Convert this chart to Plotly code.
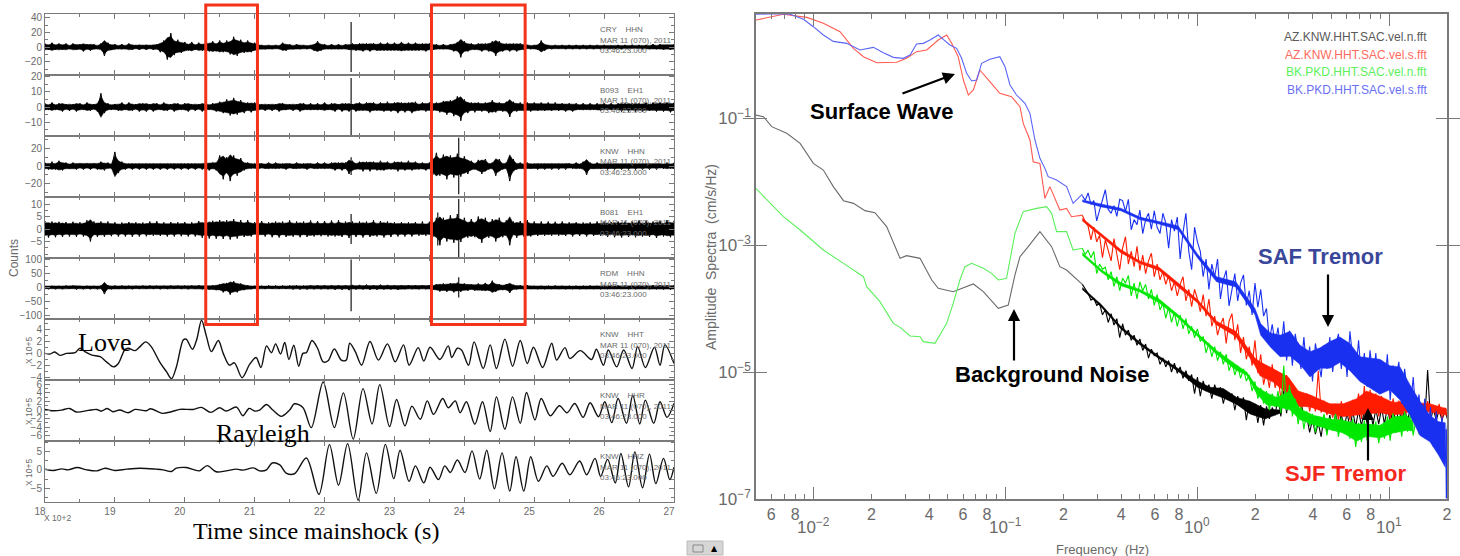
import plotly.graph_objects as go

W, H = 1460, 556

# ---------- left panel data: seismograms ----------
CRY_HHN = [
 5,4,6,4,5,4,5,3,5,4,4,6,4,5,4,3,5,12,6,4,
 4,3,4,3,5,4,3,4,3,4,3,4,4,7,9,17,19,11,10,8,
 7,5,7,4,6,5,6,6,8,6,9,7,9,10,14,12,10,8,9,7,
 6,4,3,3,3,3,3,3,6,5,4,3,4,3,3,3,3,5,8,5,
 4,3,4,3,4,3,4,4,5,5,5,6,5,6,5,5,6,5,6,5,
 6,5,7,5,6,5,6,5,5,6,5,4,4,3,4,3,4,6,7,14,
 8,6,5,4,5,6,5,6,8,12,8,6,5,6,5,6,5,4,3,3,
 3,4,9,5,3,3,3,2,3,3,3,3,3,3,3,3,3,3,3,3,
 3,3,2,3,3,3,3,3,3,2,3,3,3,3,4,3,4,4,3,4,4]
B093_EH1 = [
 2.5,2,3,2,2.5,3,2,2.5,2,3,2.5,2,3,2.5,2,3,9,4,2.5,2,
 2,2.5,3,2,3,2.5,2,3,2.5,3,2,3,2.5,2,3,2.5,2,3,2.5,2,
 2.5,3,2,2.5,2,3,2.5,2,2.5,3,3.5,4,5,5.5,6,5,4.5,4,3,3.5,
 3,2.5,2,2.5,2,2.5,2,3,2.5,2,2,2.5,2,3,2.5,2,2.5,2,2.5,2,
 3,2,2.5,3,2,3,2.5,3,2,3,3,2.5,3,3.5,3,2.5,3,3,3.5,3,
 3,4,3,3.5,3,4,3.5,2.5,3,3,3,2.5,3,3.5,4,5,4.5,6,7,9,
 5,4,3,3.5,3,3,3,4,4.5,3.5,3,3,3.5,6.5,3.5,3,3,2.5,3,3,
 3,2.5,3,2.5,3,2.5,3,2.5,2.5,3,2.5,3,2.5,2,2.5,2,2.5,2,2.5,2.5,
 2.5,2,2.5,2,2.5,3,2.5,3,2.5,3,2.5,3,3,2.5,3,3,3,3,3,3.5,3]
KNW_HHN = [
 4,4,5,4,6,5,4,3,4,4,3,4,3,4,3,4,5,5,4,3,
 16,8,5,4,3,4,3,4,3,4,3,4,3,4,3,4,3,4,3,4,
 3,4,3,4,3,4,4,5,4,5,12,15,10,17,12,11,9,5,4,3,
 3,4,3,3,4,3,4,3,3,4,3,3,4,3,3,4,3,3,4,3,
 4,3,4,5,4,5,4,9,6,4,5,6,5,6,5,5,6,5,5,4,
 5,6,5,5,6,5,5,4,4,5,4,10,15,11,13,15,12,13,14,12,
 11,9,6,4,7,9,8,4,4,11,8,4,4,17,8,4,4,3,4,3,
 3,4,3,4,3,4,3,4,3,4,3,3,4,3,5,10,4,3,4,3,
 3,4,3,4,3,4,3,4,3,4,3,4,3,4,3,4,3,3,4,3,4]
B081_EH1 = [
 3.2,3.4,3,3.3,2.9,3.2,2.8,3,2.9,3.1,2.7,3,3.5,5,3,3.2,3,3.1,3,2.9,
 2.7,3,2.6,3,2.8,3.1,2.7,3,2.6,2.9,3,2.7,3.1,2.8,2.7,3,2.8,3,2.7,2.9,
 2.8,3,2.7,3,3.2,3.5,3,3.8,3.3,3.9,3.6,4,3.5,4.2,4,3.8,3.6,3.2,3.6,3,
 2.8,3,3.2,3,2.7,3.3,3,3.4,3,3.2,3.5,3.1,3,3.3,3,3.2,3.4,3,3.2,2.9,
 3.2,3,3.4,3,3.5,3.2,3,3.6,3,3.2,3,3.4,3,3.2,3.5,3,3.2,3.4,3,3.2,
 2.7,3,2.8,3,2.7,3,2.8,2.7,3,2.7,2.9,3.2,4.5,6.5,4.5,5,5.5,5.5,6,5.2,
 4.5,3.5,4,3.3,5,5.5,4.5,3.5,4,5,4.5,3.3,3.5,6.5,3,3.5,3.2,3,3.6,3,
 3,2.8,3,2.7,3,2.7,2.9,2.7,3,2.8,2.7,3,2.7,2.8,2.6,3,2.7,2.8,3,2.7,
 3,3.2,2.8,3.3,3,3.4,3,3.2,3,3.3,3.5,3,3.4,3.2,3,3.6,3.2,3,3.6,3.3,3.4]
RDM_HHN = [
 6,7,6,7,6,7,7,6,7,8,6,7,6,7,6,7,7,24,8,7,
 7,6,7,6,6,7,6,6,7,6,7,6,6,7,6,6,7,6,7,6,
 6,7,7,6,8,7,8,9,8,10,12,18,16,26,22,18,14,10,8,7,
 6,7,6,6,7,6,7,6,7,6,7,8,7,8,7,8,8,7,8,7,
 8,7,8,9,8,9,8,10,9,8,9,8,10,9,8,9,10,8,9,8,
 8,9,8,7,8,7,8,7,8,7,8,9,12,15,14,16,15,18,17,16,
 14,12,10,12,14,12,16,12,24,16,12,10,12,20,10,8,8,7,8,6,
 6,7,6,7,6,6,7,6,6,7,6,6,6,7,6,6,7,6,6,7,
 6,6,7,6,7,6,7,7,6,7,7,6,7,7,8,7,8,8,7,8,8]
# spikes: time, up, down
CRY_SPIKES = [(2238, 34, -34)]
B093_SPIKES = [(2238, 19, -19)]
KNW_SPIKES = [(2238, 10, -10), (2392, 32, -32)]
B081_SPIKES = [(2238, 6, -6), (2362, 6.6, -6.6), (2392, 12, -12)]
RDM_SPIKES = [(2238, 100, -85), (2392, 36, -36)]
ENV_T0, ENV_STEP = 1800, 5

HHT_T = [1800,1807,1814,1821,1831,1843,1850,1857,1867,1879,1888,1898,1905,1914,1919,1929,1936,1944,1952,1964,1974,1981,1988,1998,2002,2011,2017,2024,2031,2038,2048,2055,2064,2071,2082,2093,2102,2109,2117,2124,2130,2137,2143,2149,2156,2163,2169,2174,2182,2190,2198,2205,2214,2224,2231,
 2236,2244,2253,2265,2277,2290,2301,2313,2321,2334,2342,2351,2365,2377,2382,2390,2396,2406,2414,2427,2437,2446,2458,2469,2480,2490,2499,2512,2525,2532,2544,2551,2566,2582,2589,2599,2606,2618,2628,2640,2648,2659,2672,2680,2687,2700]
HHT_V = [0,-.11,.23,-.34,0,.11,.86,.29,-.29,-.57,-1.43,-2.29,-1.71,.57,.86,.46,1.14,1.94,1.14,-1.43,-3.14,-4.29,-2.29,2.29,2.4,.69,2.29,5.6,2.86,.29,2.17,0,-2,-1.6,-4.11,-1.83,-.69,-2.4,1.26,.11,1.6,-.11,1.83,-1.03,1.37,-2.17,0,.11,2.17,.86,-1.43,-1.26,.74,-1.14,-1.14,
 1.71,.29,-2,2,-1.14,1.6,-1.43,1.43,-2,.97,-1.31,1.03,-1.03,1.26,-.69,.86,.57,-2,1.94,-2.57,1.43,-2.57,2.4,-2.17,2.17,-1.71,1.03,-2.4,1.71,-1.14,.97,-.86,.46,-1.03,.69,-2,.57,-2.29,.57,-2.57,1.14,-2.4,1.03,-2,1.43,-1.71]
HHR_T = [1800,1812,1824,1835,1845,1862,1874,1881,1889,1897,1907,1919,1929,1945,1951,1968,1981,1993,2012,2024,2037,2050,2059,2074,2083,2092,2100,2107,2117,2126,2138,2150,2157,2169,2181,2198,2214,2227,
 2241,2255,2268,2279,2293,2303,2315,2325,2337,2347,2356,2369,2377,2387,2394,2403,2415,2426,2437,2446,2458,2469,2480,2489,2501,2510,2523,2536,2547,2558,2570,2580,2592,2601,2611,2620,2632,2641,2651,2659,2671,2680,2690,2700]
HHR_V = [.15,-.15,0,.38,-.46,-.08,.15,-.23,.38,-.38,0,-.62,.15,-.15,.31,-.77,-.38,.15,.15,.62,-.54,.54,-.23,.69,-1.31,.38,-.23,0,1.31,0,-1.46,0,1.46,.62,-4.08,6.54,-4.08,4,
 -6.77,5,-3.23,5.92,-3.85,2.46,-3.69,.92,-2.15,2.15,-1,2.69,.54,2.15,-.62,1.92,-3.31,1.92,-5,3.08,-4.46,3.08,-3.08,4.08,-2.31,2.69,-1.31,1,-.62,1.54,-1.69,1.69,-1.54,1.92,-2.92,2.69,-3.08,3.46,-3.23,2.31,-3.08,1.92,-1.69,1.54]
HHZ_T = [1800,1812,1824,1833,1846,1860,1874,1886,1900,1917,1936,1959,1969,1981,1988,2002,2021,2032,2045,2059,2074,2083,2098,2107,2117,2125,2136,2145,2157,2174,2192,2207,2220,2233,
 2248,2260,2274,2287,2299,2308,2321,2330,2342,2351,2363,2372,2380,2390,2401,2411,2422,2432,2443,2454,2465,2474,2485,2495,2506,2518,2527,2540,2551,2565,2575,2587,2595,2605,2616,2624,2635,2644,2655,2665,2674,2685,2694,2700]
HHZ_V = [.18,-.18,.27,0,.62,0,-.27,.44,-.18,.18,.44,.18,0,-.44,.44,.62,-.27,1.15,-.53,-.27,.18,-.09,.53,-.27,0,1.86,1.33,-.88,-1.06,3.19,-6.64,6.81,-4.16,7.08,
 -8.23,4.6,-6.37,6.9,-2.39,5.31,-3.1,1.06,-3.54,.71,-2.65,1.06,-.71,2.65,-.71,5.13,-2.48,5.31,-5.13,4.6,-5.75,3.54,-5.75,3.54,-3.1,1.06,-1.77,1.77,-1.33,2.39,-1.33,3.1,-1.77,2.83,-3.54,4.42,-4.6,4.87,-4.87,4.25,-3.72,3.1,-2.65,.71]
WINDOW_STARTS = [2030, 2353]
WINDOW_ENDS = [2104, 2487]

# ---------- right panel data: spectra (log10 frequency, log10 amplitude) ----------
BLUE_LF = [-2.302,-2.21,-2.123,-2.054,-2.002,-1.95,-1.898,-1.828,-1.759,-1.689,-1.637,-1.585,-1.533,-1.498,-1.464,-1.429,-1.394,-1.351,-1.325,-1.29,-1.255,-1.229,-1.203,-1.177,-1.151,-1.125,-1.082,-1.03,-1.003,-0.977,-0.943,-0.899,-0.873,-0.847,-0.821,-0.795,-0.778,-0.734,-0.682,-0.648,-.6]
BLUE_E = [0.633,0.643,0.633,0.554,0.438,0.307,0.207,0.176,0.071,0.113,0.029,-0.045,-0.06,-0.008,0.165,0.176,0.228,0.307,0.239,0.15,0.097,-0.06,-0.297,-0.417,-0.402,-0.139,-0.076,-0.034,-0.192,-0.48,-0.638,-0.769,-0.927,-1.346,-1.635,-1.793,-1.924,-1.976,-2.081,-2.344,-2.2]
RED_LF = [-2.302,-2.158,-2.036,-1.95,-1.863,-1.793,-1.741,-1.672,-1.568,-1.516,-1.464,-1.411,-1.351,-1.307,-1.281,-1.247,-1.22,-1.194,-1.168,-1.134,-1.082,-1.03,-.969,-.925,-.908,-.873,-.856,-.821,-.795,-.769,-.717,-.682,-.656,-.6]
RED_E = [.543,.633,.585,.491,.36,.097,-.034,-.129,-.123,-.06,.045,.071,.228,.307,.176,-.034,-.402,-.638,-.559,-.244,-.428,-.612,-.664,-.822,-1.084,-1.346,-1.688,-1.714,-2.265,-2.081,-2.449,-2.423,-2.554,-2.53]
GREEN_LF = [-2.302,-2.227,-2.158,-2.071,-1.95,-1.845,-1.741,-1.724,-1.655,-1.585,-1.55,-1.498,-1.446,-1.429,-1.368,-1.307,-1.273,-1.238,-1.212,-1.177,-1.116,-1.073,-1.038,-.995,-.951,-.908,-.839,-.786,-.76,-.734,-.682,-.648,-.6]
GREEN_E = [-2.108,-2.344,-2.554,-2.764,-3.079,-3.289,-3.499,-3.656,-3.892,-4.234,-4.297,-4.433,-4.444,-4.522,-4.549,-4.234,-3.919,-3.551,-3.341,-3.289,-3.367,-3.446,-3.551,-3.525,-2.816,-2.475,-2.423,-2.396,-2.501,-2.79,-2.79,-3.079,-3.05]
BLACK_LF = [-2.302,-2.262,-2.219,-2.141,-2.071,-2.002,-1.95,-1.898,-1.845,-1.793,-1.733,-1.681,-1.62,-1.55,-1.516,-1.446,-1.394,-1.385,-1.351,-1.273,-1.168,-1.116,-1.038,-.986,-.951,-.925,-.882,-.821,-.76,-.717,-.682,-.6]
BLACK_E = [-.953,-.979,-1.136,-1.241,-1.399,-1.714,-1.819,-2.081,-2.302,-2.344,-2.459,-2.491,-2.711,-3.21,-3.168,-3.21,-3.499,-3.551,-3.683,-3.735,-3.614,-3.735,-3.997,-3.945,-3.472,-3.184,-3.026,-2.79,-3.026,-3.341,-3.394,-3.62]

# jagged high-frequency part: values read every 0.015 decades from log10 f = -0.6
ZIG_LF0, ZIG_STEP = -0.6, 0.015
BLUE_ZIG = [
 -2.22,-2.3,-2.18,-2.36,-2.3,-2.62,-2.45,-2.3,-2.13,-2.44,
 -2.5,-2.38,-2.55,-2.28,-2.3,-2.47,-2.28,-2.76,-2.6,-2.68,
 -2.45,-2.82,-2.6,-2.5,-2.75,-2.46,-2.72,-2.82,-2.5,-2.65,
 -3.05,-2.6,-2.78,-2.56,-3.22,-2.8,-2.5,-3.1,-3.39,-2.72,
 -2.95,-3.1,-3.5,-3.22,-3.7,-3.3,-3.5,-3.22,-3.85,-3.55,
 -3.4,-3.96,-3.7,-3.45,-3.88,-3.6,-3.47,-3.95,-3.72,-4.1,
 -3.6,-3.98,-3.7,-4.12,-4.0,-4.5,-4.25,-4.56,-4.3,-4.7,
 -4.2,-4.82,-4.35,-4.9,-4.4,-4.68,-4.95,-4.45,-5.0,-4.6,
 -5.15,-4.55,-4.85,-5.08,-4.58,-4.95,-4.45,-5.0,-4.6,-4.4,
 -4.95,-4.5,-5.08,-4.36,-4.8,-5.06,-4.5,-5.1,-4.7,-5.23,
 -4.66,-5.1,-4.7,-5.32,-4.82,-5.25,-4.72,-5.44,-4.9,-5.1,
 -4.84,-5.5,-4.95,-5.3,-5.55,-5.08,-5.76,-5.35,-5.92,-5.42,
 -6.07,-5.55,-6.18,-5.62,-6.3,-5.7,-6.45,-5.75]
RED_ZIG = [
 -2.53,-2.63,-2.7,-2.92,-2.72,-2.95,-2.85,-3.2,-2.92,-3.1,
 -3.25,-2.9,-3.15,-3.39,-3.05,-2.87,-3.3,-3.1,-3.34,-3.02,
 -3.4,-3.16,-3.45,-3.25,-3.13,-3.5,-3.3,-3.55,-3.42,-3.62,
 -3.48,-3.72,-3.58,-3.8,-3.62,-3.5,-3.88,-3.7,-3.97,-3.7,
 -3.85,-4.05,-3.78,-4.12,-3.85,-4.28,-4.12,-4.42,-4.25,-4.15,
 -4.55,-4.2,-4.08,-4.5,-4.25,-4.7,-4.45,-4.8,-4.6,-4.9,
 -4.5,-5.02,-4.72,-5.2,-4.98,-5.25,-4.88,-5.25,-5.08,-5.42,
 -5.15,-5.05,-5.45,-5.25,-5.55,-5.3,-5.6,-5.4,-5.34,-5.62,
 -5.4,-5.62,-4.98,-5.64,-5.45,-5.68,-5.5,-5.72,-5.5,-5.76,
 -5.46,-5.7,-5.5,-5.76,-5.44,-5.66,-5.34,-5.74,-5.22,-5.7,
 -5.28,-5.62,-5.34,-5.7,-5.38,-5.66,-5.46,-5.74,-5.42,-5.64,
 -5.45,-5.7,-5.42,-5.62,-5.48,-5.7,-5.44,-5.6,-5.5,-5.68,
 -5.46,-5.66,-5.52,-5.7,-5.5,-5.74,-5.56,-5.72]
GREEN_ZIG = [
 -3.05,-3.15,-3.08,-3.2,-3.1,-3.45,-3.3,-3.38,-3.35,-3.55,
 -3.42,-3.65,-3.5,-3.72,-3.52,-3.6,-3.48,-3.8,-3.6,-3.85,
 -3.58,-3.72,-3.62,-3.85,-3.7,-3.95,-3.78,-4.02,-3.92,-4.15,
 -3.98,-4.22,-4.06,-4.28,-4.1,-4.32,-4.16,-4.4,-4.28,-4.46,
 -4.32,-4.52,-4.44,-4.7,-4.55,-4.76,-4.6,-4.82,-4.68,-4.88,
 -4.72,-4.98,-4.84,-5.05,-4.9,-5.1,-4.95,-5.14,-5.05,-5.3,
 -5.15,-5.42,-5.25,-5.5,-5.3,-5.6,-5.34,-5.55,-5.3,-5.65,
 -4.9,-5.6,-5.2,-5.7,-5.42,-5.82,-5.55,-5.9,-5.62,-5.85,
 -5.66,-5.95,-5.7,-5.86,-5.66,-6.0,-5.72,-5.92,-5.66,-6.02,
 -5.72,-5.98,-5.78,-6.05,-5.74,-6.18,-5.8,-6.1,-5.76,-6.08,
 -5.82,-6.02,-5.78,-6.12,-5.84,-6.05,-5.7,-6.08,-5.65,-5.96,
 -5.7,-6.02,-5.62,-5.94,-5.66,-6.0,-5.72,-5.98,-5.8,-6.0]
BLACK_ZIG = [
 -3.62,-3.7,-3.76,-3.87,-3.84,-3.95,-3.92,-4.1,-4.02,-4.22,
 -4.08,-4.26,-4.16,-4.46,-4.24,-4.42,-4.34,-4.5,-4.42,-4.58,
 -4.48,-4.66,-4.56,-4.78,-4.64,-4.74,-4.7,-4.88,-4.78,-4.92,
 -4.82,-5.0,-4.86,-5.02,-4.92,-5.1,-4.98,-5.14,-5.04,-5.34,
 -5.08,-5.38,-5.14,-5.3,-5.2,-5.42,-5.2,-5.36,-5.24,-5.5,
 -5.3,-5.44,-5.34,-5.6,-5.38,-5.54,-5.4,-5.76,-5.46,-5.64,
 -5.5,-5.8,-5.52,-5.84,-5.54,-5.74,-5.56,-5.68,-5.4,-5.7,
 -5.3,-5.65,-5.28,-5.6,-5.26,-5.55,-5.45,-5.75,-5.7,-5.95,
 -5.75,-5.98,-5.8,-6.02,-5.7,-5.95,-5.68,-5.92,-5.65,-5.9,
 -5.66,-5.9,-5.64,-5.88,-5.62,-5.86,-5.6,-5.85,-5.6,-5.82,
 -5.58,-5.84,-5.58,-5.82,-5.56,-5.82,-5.55,-5.8,-5.56,-5.82,
 -5.56,-5.8,-5.55,-5.78,-5.56,-5.78,-5.56,-5.76,-5.56,-5.78,
 -4.97,-5.76,-5.58,-5.76,-5.6,-5.76,-5.6,-5.76]

# solid core of the noisy bands (thin at low frequency, thick at high frequency)
BLUE_BAND_LF = [-.6,-.5,-.4,-.3,-.2,-.1,0,.1,.2,.3,.33,.378,.431,.483,.535,.587,.639,.691,.743,.795,.847,.899,.951,1.003,1.056,1.108,1.16,1.212,1.255,1.292]
BLUE_BAND_UP = [-2.29,-2.36,-2.42,-2.56,-2.63,-2.7,-3.14,-3.5,-3.58,-4.0,-4.24,-4.38,-4.42,-4.36,-4.58,-4.68,-4.62,-4.52,-4.45,-4.55,-4.76,-4.78,-4.8,-4.9,-4.92,-5.2,-5.46,-5.68,-5.78,-5.8]
BLUE_BAND_LO = [-2.32,-2.4,-2.46,-2.6,-2.67,-2.76,-3.2,-3.58,-3.66,-4.1,-4.42,-4.6,-4.76,-4.75,-4.88,-5.08,-4.94,-4.94,-4.85,-4.98,-5.15,-5.25,-5.35,-5.28,-5.44,-5.68,-6.0,-6.1,-6.3,-6.5]
RED_BAND_LF = [-.6,-.5,-.4,-.3,-.2,-.1,0,.1,.2,.3,.326,.396,.474,.526,.587,.691,.76,.83,.882,.951,1.021,1.082,1.125,1.212,1.299]
RED_BAND_UP = [-2.58,-2.82,-3.07,-3.25,-3.35,-3.6,-3.86,-4.2,-4.36,-4.78,-4.84,-4.95,-5.08,-5.3,-5.36,-5.5,-5.5,-5.42,-5.3,-5.38,-5.48,-5.46,-5.48,-5.5,-5.58]
RED_BAND_LO = [-2.62,-2.87,-3.12,-3.29,-3.4,-3.66,-3.91,-4.26,-4.44,-4.9,-5.06,-5.16,-5.36,-5.54,-5.55,-5.66,-5.7,-5.68,-5.66,-5.64,-5.68,-5.64,-5.62,-5.63,-5.68]
GREEN_BAND_LF = [-.6,-.5,-.4,-.3,-.2,-.1,0,.1,.2,.257,.309,.361,.413,.483,.535,.604,.691,.76,.83,.882,.951,1.021,1.09,1.125]
GREEN_BAND_UP = [-3.12,-3.39,-3.59,-3.7,-3.85,-4.1,-4.39,-4.66,-4.88,-5.0,-5.23,-5.33,-5.4,-5.3,-5.58,-5.68,-5.74,-5.76,-5.82,-5.82,-5.84,-5.71,-5.68,-5.8]
GREEN_BAND_LO = [-3.16,-3.43,-3.64,-3.74,-3.91,-4.15,-4.43,-4.72,-4.97,-5.05,-5.34,-5.52,-5.54,-5.6,-5.75,-5.83,-5.91,-5.96,-6.09,-6.01,-6.04,-5.96,-5.92,-5.93]
BLACK_BAND_LF = [-.6,-.5,-.4,-.3,-.2,-.1,0.0,.066,.135,.205,.274,.352,.431]
BLACK_BAND_UP = [-3.67,-3.94,-4.28,-4.53,-4.75,-4.94,-5.14,-5.24,-5.26,-5.4,-5.46,-5.58,-5.6]
BLACK_BAND_LO = [-3.7,-3.98,-4.32,-4.57,-4.79,-4.99,-5.24,-5.33,-5.41,-5.51,-5.66,-5.74,-5.65]
DROP_LF, DROP_E = [1.296, 1.2985], [-5.9, -6.99]

LEGEND_NAMES = ["AZ.KNW.HHT.SAC.vel.n.fft", "AZ.KNW.HHT.SAC.vel.s.fft",
                "BK.PKD.HHT.SAC.vel.n.fft", "BK.PKD.HHT.SAC.vel.s.fft"]

# ---------- layout helpers ----------
SANS = "Liberation Sans, Arial, sans-serif"
SERIF = "Liberation Serif, serif"
GRAY, LBL = "#7a7a7a", "#6a6a6a"
def px(x): return x / W
def py(y): return 1 - y / H

annotations, shapes = [], []
def text(x, y, s, size=8, color=LBL, family=SANS, anchor="center", **k):
    annotations.append(dict(x=px(x), y=py(y), xref="paper", yref="paper", text=s, showarrow=False,
                            xanchor=anchor, yanchor="middle",
                            font=dict(size=size, color=color, family=family), **k))
def arrow(x0, y0, x1, y1):
    annotations.append(dict(x=px(x1), y=py(y1), xref="paper", yref="paper", text="", showarrow=True,
                            ax=x0 - x1, ay=y0 - y1, arrowhead=2, arrowsize=1.1, arrowwidth=2.2,
                            arrowcolor="#000000"))

fig = go.Figure()

# ---------- left panel ----------
ROW_TOP = [14, 75, 136, 197, 258, 319, 380, 441]
ROW_H = 61
ROWS = [
 dict(range=[-38, 45], ticks=[40, 20, 0, -20], minor=10, st="CRY    HHN"),
 dict(range=[-19, 21], ticks=[20, 10, 0, -10], minor=5, st="B093    EH1"),
 dict(range=[-35, 34], ticks=[20, 0, -20], minor=10, st="KNW    HHN"),
 dict(range=[-11.6, 12.8], ticks=[10, 5, 0, -5], minor=2.5, st="B081    EH1"),
 dict(range=[-113, 105], ticks=[100, 50, 0, -50, -100], minor=25, st="RDM    HHN"),
 dict(range=[-4.5, 5.8], ticks=[4, 2, 0, -2, -4], minor=1, st="KNW    HHT"),
 dict(range=[-7.2, 7.0], ticks=[6, 4, 2, 0, -2, -4, -6], minor=1, st="KNW    HHR"),
 dict(range=[-8.7, 7.8], ticks=[5, 0, -5], minor=2.5, st="KNW    HHZ"),
]
ENVS = [(CRY_HHN, CRY_SPIKES), (B093_EH1, B093_SPIKES), (KNW_HHN, KNW_SPIKES),
        (B081_EH1, B081_SPIKES), (RDM_HHN, RDM_SPIKES)]
WAVES = [(HHT_T, HHT_V), (HHR_T, HHR_V), (HHZ_T, HHZ_V)]
X_TICKS = list(range(1800, 2701, 100))
CORE = 0.75

for i, (row, top) in enumerate(zip(ROWS, ROW_TOP)):
    n = i + 1
    xa = dict(domain=[px(45), px(674)], range=[1800, 2700], anchor=f"y{n}", tickvals=X_TICKS,
              ticks="inside", ticklen=5, tickcolor=GRAY, linecolor=GRAY, linewidth=1, mirror="allticks",
              showgrid=False, zeroline=False,
              minor=dict(ticks="inside", ticklen=3, dtick=50, tick0=1800, tickcolor=GRAY, showgrid=False),
              showticklabels=(i == 7), ticktext=[str(t // 100) for t in X_TICKS],
              ticklabelshift=-5, tickfont=dict(size=10, color=LBL, family=SANS))
    ya = dict(domain=[py(top + ROW_H), py(top)], range=row["range"], anchor=f"x{n}", tickvals=row["ticks"],
              ticktext=[str(t).replace("-", "\u2212") for t in row["ticks"]],
              ticks="inside", ticklen=5, tickcolor=GRAY, linecolor=GRAY, linewidth=1, mirror="allticks",
              showgrid=False, zeroline=False,
              minor=dict(ticks="inside", ticklen=3, tickmode="linear", tick0=0, dtick=row["minor"],
                         tickcolor=GRAY, showgrid=False),
              tickfont=dict(size=10, color=LBL, family=SANS))
    fig.layout[f"xaxis{n if n > 1 else ''}"] = xa
    fig.layout[f"yaxis{n if n > 1 else ''}"] = ya
    text(598, top + 15, row["st"], anchor="left")
    text(598, top + 26, "MAR 11 (070), 2011", anchor="left")
    text(598, top + 36, "03:46:23.000", anchor="left")
    if i < 5:
        amps, spikes = ENVS[i]
        xs, ys = [], []
        tt = [ENV_T0 + ENV_STEP * j for j in range(len(amps))]
        for j, (t, a) in enumerate(zip(tt, amps)):
            xs.append(t)
            ys.append(a if j % 2 == 0 else -a)
        fig.add_trace(go.Scatter(x=tt + tt[::-1], y=[a * CORE for a in amps] + [-a * CORE for a in amps[::-1]],
                                 mode="lines", fill="toself", fillcolor="#000000", line=dict(color="#000000", width=0.5),
                                 xaxis=f"x{n}", yaxis=f"y{n}", hoverinfo="skip", showlegend=False))
        fig.add_trace(go.Scatter(x=xs, y=ys, mode="lines", line=dict(color="#000000", width=1.0),
                                 xaxis=f"x{n}", yaxis=f"y{n}", hoverinfo="skip", showlegend=False))
        for t, up, dn in spikes:
            fig.add_trace(go.Scatter(x=[t, t], y=[dn, up], mode="lines", line=dict(color="#000000", width=1.1),
                                     xaxis=f"x{n}", yaxis=f"y{n}", hoverinfo="skip", showlegend=False))
    else:
        tt, vv = WAVES[i - 5]
        fig.add_trace(go.Scatter(x=tt, y=vv, mode="lines", line=dict(color="#111111", width=1.4, shape="spline", smoothing=0.9),
                                 xaxis=f"x{n}", yaxis=f"y{n}", hoverinfo="skip", showlegend=False))
        text(29, top + 32, "X 10+5", textangle=-90, size=8.5)

for s, e in zip(WINDOW_STARTS, WINDOW_ENDS):
    shapes.append(dict(type="rect", xref="x", yref="paper", x0=s, x1=e, y0=py(324.5), y1=py(5),
                       line=dict(color="#f5331a", width=3), layer="above"))
text(14, 258, "Counts", size=12, textangle=-90)
text(57, 518, "X 10+2", size=8.5)
text(104, 342, "Love", size=26, color="#000", family=SERIF)
text(263, 433, "Rayleigh", size=26, color="#000", family=SERIF)
text(316, 531, "Time since mainshock (s)", size=24, color="#000", family=SERIF)

# ---------- right panel ----------
def pw(v): return [10 ** a for a in v]
LABEL_TICKS = [6e-3, 8e-3, .02, .04, .06, .08, .2, .4, .6, .8, 2, 4, 6, 8, 20]
LABEL_TEXT = ["6", "8", "2", "4", "6", "8", "2", "4", "6", "8", "2", "4", "6", "8", "2"]
OTHER_TICKS = [7e-3, 9e-3, .03, .05, .07, .09, .3, .5, .7, .9, 3, 5, 7, 9]
DECADES = [.01, .1, 1, 10]
XR = [-2.301, 1.301]
fig.layout["xaxis9"] = dict(domain=[px(756), px(1447)], type="log", range=XR, anchor="y9",
                            tickvals=LABEL_TICKS, ticktext=LABEL_TEXT, ticks="inside", ticklen=5,
                            minor=dict(tickvals=OTHER_TICKS, ticks="inside", ticklen=5, tickcolor=GRAY, showgrid=False),
                            tickcolor=GRAY, linecolor=GRAY, linewidth=1.5, mirror="allticks",
                            showgrid=False, zeroline=False, tickfont=dict(size=16, color=LBL, family=SANS))
fig.layout["xaxis10"] = dict(domain=[px(756), px(1447)], type="log", range=XR, anchor="y9",
                             overlaying="x9", tickvals=DECADES, showticklabels=False, ticks="inside", ticklen=12,
                             tickcolor=GRAY, linecolor=GRAY, linewidth=1.5, mirror="allticks",
                             showgrid=False, zeroline=False)
fig.layout["yaxis9"] = dict(domain=[py(499), py(14)], type="log", range=[-7, 0.638], anchor="x9",
                            tickvals=[1e-1, 1e-3, 1e-5, 1e-7],
                            ticktext=["10<sup>\u22121</sup>", "10<sup>\u22123</sup>", "10<sup>\u22125</sup>", "10<sup>\u22127</sup>"],
                            ticks="inside", ticklen=11, tickcolor=GRAY, linecolor=GRAY, linewidth=1.5, mirror="allticks",
                            showgrid=False, zeroline=False, tickfont=dict(size=17, color=LBL, family=SANS))
fig.add_trace(go.Scatter(x=[.01], y=[1e-7], mode="markers", marker=dict(opacity=0), xaxis="x10", yaxis="y9",
                         hoverinfo="skip", showlegend=False))

SERIES = [
 ("#6a6a6a", "#000000", BLACK_LF, BLACK_E, BLACK_ZIG, BLACK_BAND_LF, BLACK_BAND_UP, BLACK_BAND_LO),
 ("#ff5a50", "#ff1c00", RED_LF, RED_E, RED_ZIG, RED_BAND_LF, RED_BAND_UP, RED_BAND_LO),
 ("#5cf05c", "#00e800", GREEN_LF, GREEN_E, GREEN_ZIG, GREEN_BAND_LF, GREEN_BAND_UP, GREEN_BAND_LO),
 ("#5a64f5", "#1a30f0", BLUE_LF, BLUE_E, BLUE_ZIG, BLUE_BAND_LF, BLUE_BAND_UP, BLUE_BAND_LO),
]
for thin, dense, lf, e, zig, blf, up, lo in SERIES:
    fig.add_trace(go.Scatter(x=pw(lf), y=pw(e), mode="lines", line=dict(color=thin, width=1.1),
                             xaxis="x9", yaxis="y9", hoverinfo="skip", showlegend=False))
    zlf = [ZIG_LF0 + ZIG_STEP * j for j in range(len(zig))]
    fig.add_trace(go.Scatter(x=pw(zlf), y=pw(zig), mode="lines", line=dict(color=dense, width=1.1),
                             xaxis="x9", yaxis="y9", hoverinfo="skip", showlegend=False))
    fig.add_trace(go.Scatter(x=pw(blf) + pw(blf[::-1]), y=pw(up) + pw(lo[::-1]), mode="lines", fill="toself",
                             fillcolor=dense, line=dict(color=dense, width=0.5),
                             xaxis="x9", yaxis="y9", hoverinfo="skip", showlegend=False))
fig.add_trace(go.Scatter(x=pw(DROP_LF), y=pw(DROP_E), mode="lines", line=dict(color="#1a30f0", width=1.5),
                         xaxis="x9", yaxis="y9", hoverinfo="skip", showlegend=False))

for d, lab in zip([-2, -1, 0, 1], ["10<sup>\u22122</sup>", "10<sup>\u22121</sup>", "10<sup>0</sup>", "10<sup>1</sup>"]):
    annotations.append(dict(x=d, y=py(526), xref="x9", yref="paper", text=lab, showarrow=False, xanchor="center",
                            yanchor="middle", font=dict(size=17, color=LBL, family=SANS)))
text(711, 257, "Amplitude  Spectra  (cm/s/Hz)", size=14, textangle=-90)
text(1102, 549, "Frequency  (Hz)", size=13)
for name, col, y in zip(LEGEND_NAMES, ["#5a5a5a", "#ff6a60", "#5cf05c", "#6a70f5"], [37, 55, 72, 90]):
    text(1429, y, name, size=12, color=col, anchor="right")
text(881, 112, "<b>Surface Wave</b>", size=22, color="#000", family=SANS)
text(1052, 374, "<b>Background Noise</b>", size=22, color="#000", family=SANS)
text(1320, 256, "<b>SAF Tremor</b>", size=22, color="#3a4699", family=SANS)
text(1345, 473, "<b>SJF Tremor</b>", size=22, color="#f5281e", family=SANS)
arrow(901, 94, 955, 74)
arrow(1014, 362, 1014, 309)
arrow(1328, 273, 1328, 327)
arrow(1368, 462, 1368, 408)

# viewer button below the panels
shapes.append(dict(type="rect", xref="paper", yref="paper", x0=px(687), x1=px(723), y0=py(555), y1=py(541),
                   fillcolor="#d6d6d6", line=dict(color="#bbbbbb", width=1)))
shapes.append(dict(type="rect", xref="paper", yref="paper", x0=px(693), x1=px(703), y0=py(552), y1=py(545),
                   line=dict(color="#888888", width=1)))
text(714, 548, "\u25b2", size=8, color="#000", family="DejaVu Sans")

fig.update_layout(width=W, height=H, margin=dict(l=0, r=0, t=0, b=0, autoexpand=False),
                  paper_bgcolor="#ffffff", plot_bgcolor="#ffffff",
                  showlegend=False, annotations=annotations, shapes=shapes)
fig.write_html("out.html", config=dict(displayModeBar=False),
               post_script="document.body.style.margin='0';document.documentElement.style.overflow='hidden';")
